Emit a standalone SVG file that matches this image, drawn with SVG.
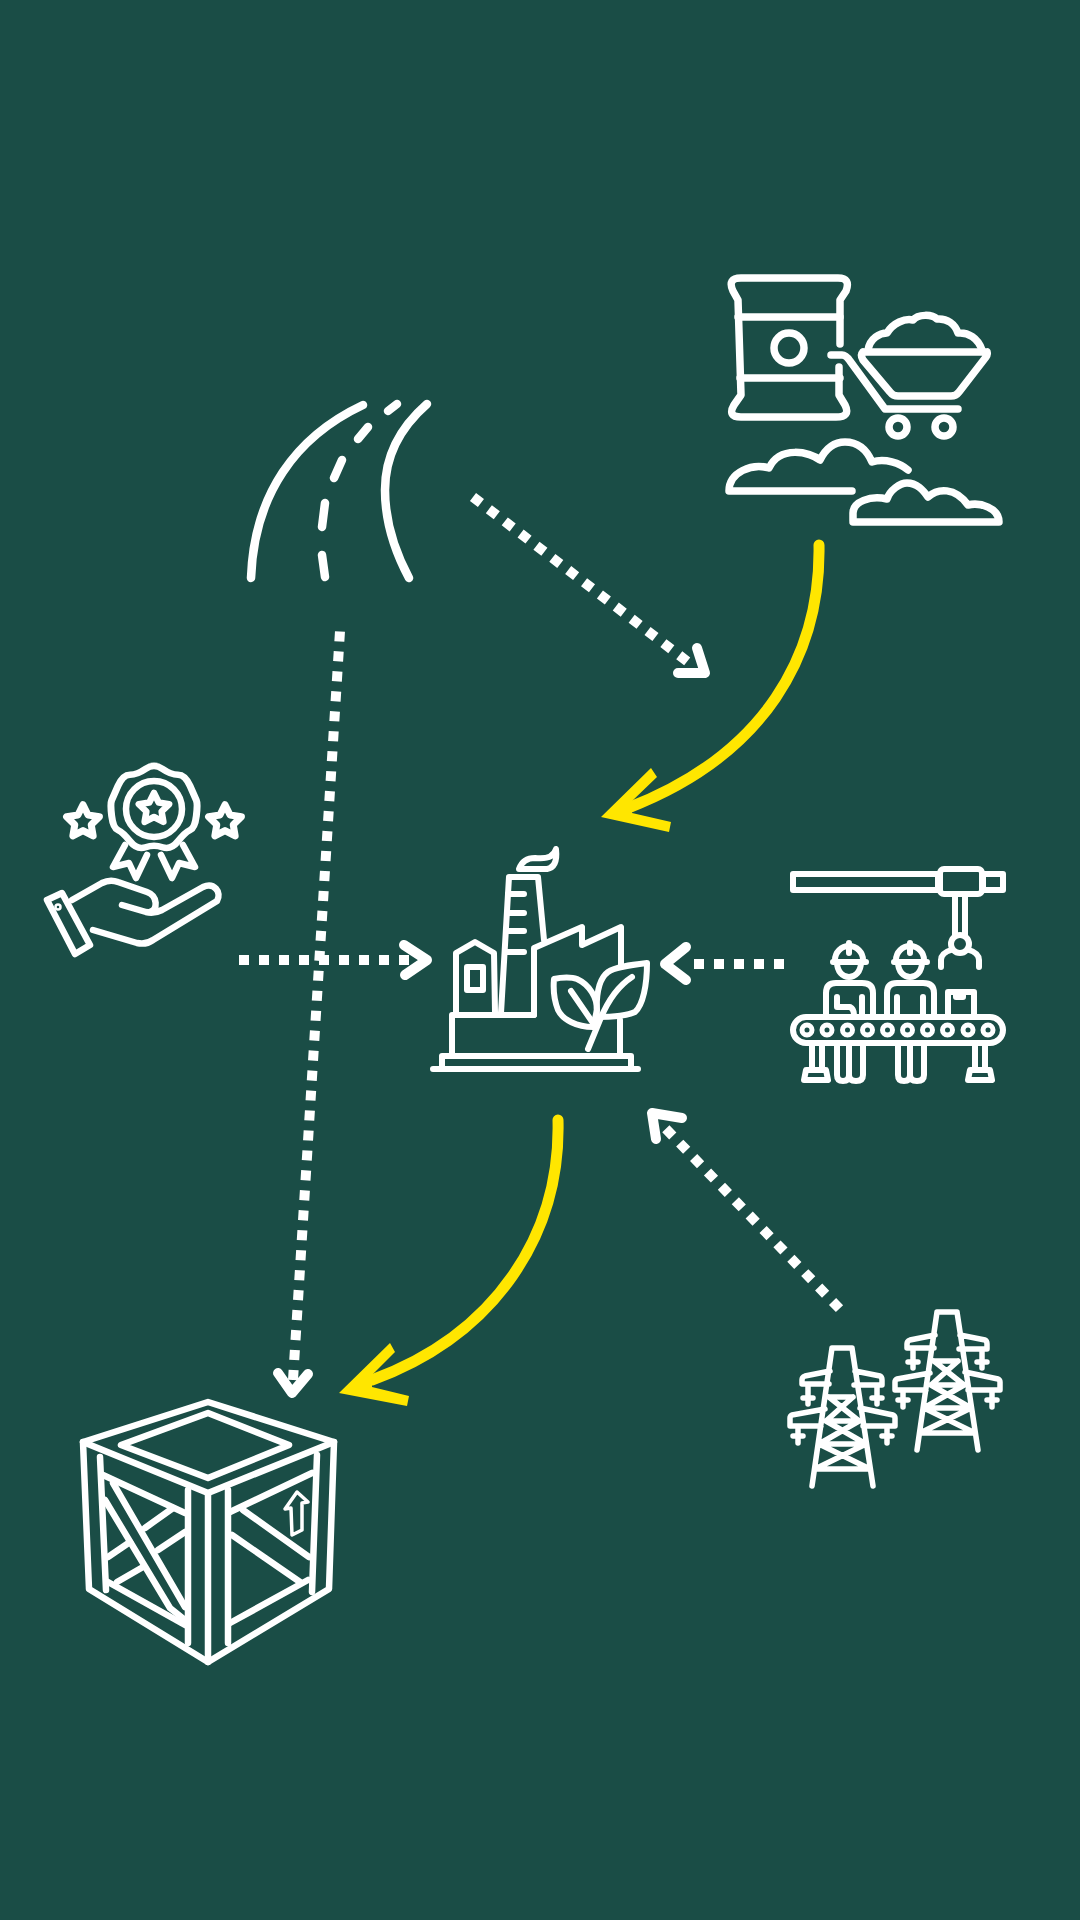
<svg xmlns="http://www.w3.org/2000/svg" width="1080" height="1920" viewBox="0 0 1080 1920">
<style>
.i{fill:none;stroke:#fff;stroke-linecap:round;stroke-linejoin:round}
.s7{stroke-width:7.5}.s6{stroke-width:6.5}.s5{stroke-width:6}
.dot{fill:none;stroke:#fff;stroke-width:10;stroke-dasharray:10 10}
.head{fill:none;stroke:#fff;stroke-width:10;stroke-linecap:round;stroke-linejoin:round}
.yc{fill:none;stroke:#ffe600;stroke-width:11;stroke-linecap:round}
.ya{fill:#ffe600;stroke:none}
</style>
<defs>
<path id="star" d="M0,-16L4.7,-6.5L15.2,-4.9L7.6,2.500L9.4,12.9L0,8L-9.4,12.9L-7.6,2.500L-15.2,-4.9L-4.7,-6.5Z"/>
<g id="pylon"><path d="M937,1312H957M937,1312L917,1450M957,1312L978,1450M935,1335L910,1340Q907,1341 907,1344V1348H934M960,1335L985,1340Q987,1341 987,1344V1349H959M930,1373L897,1379Q895,1380 895,1382V1390H926M965,1372L998,1379Q1000,1380 1000,1382V1390H968M934,1361H958M931,1385H964M924,1408H971M920,1433H975M934,1361L964,1385M958,1361L931,1385M931,1385L971,1408M964,1385L924,1408M924,1408L975,1433M971,1408L920,1433M913,1348V1368M908,1362H918M982,1349V1368M977,1362H987M903,1390V1407M898,1400H908M992,1390V1407M987,1400H997"/></g>
<g id="worker"><path d="M849,943V953M833,962H866M835,960A14,14 0 0 1 863,960M837,962C837,982 861,982 861,962M826,1015V993Q826,983 836,983H862Q873,983 873,993V1015M837,1045V1075Q837,1081 843,1081Q849,1081 849,1075V1045M849,1075Q849,1081 856,1081Q863,1081 863,1075V1045"/></g>
</defs>
<rect width="1080" height="1920" fill="#1a4d46"/>
<g id="connectors">
<path class="dot" d="M473,497L688,662"/>
<path class="head" d="M697,648L705,673H678"/>
<path class="yc" d="M819,545C821,655 765,755 628,808"/>
<path class="ya" d="M601,817L651,768L657,777L631,802L632,813L671,822L669,832Z"/>
<path class="yc" d="M558,1120C561,1235 495,1335 372,1380"/>
<path class="ya" d="M339,1393L390,1343L395,1352L372,1375L372,1387L409,1396L407,1406Z"/>
<path class="dot" d="M293,1380L340,631"/>
<path class="head" d="M278,1373L292,1393L308,1374"/>
<path class="dot" d="M239,960H414"/>
<path class="head" d="M404,945L427,960L405,975"/>
<path class="dot" d="M784,964H692"/>
<path class="head" d="M686,947L665,964L686,980"/>
<path class="dot" d="M839.5,1308.6L665.5,1128.4"/>
<path class="head" d="M682,1118L652,1113L656,1139"/>
</g>
<g id="raw-materials" class="i s7">
<path d="M840,344V300L846,291Q851,278 838,278H741Q727,278 733,291L738,300L741,395L734,405Q727,417 741,417H836Q851,417 845,405L839,395V367"/>
<path d="M738,317H840M740,378H840"/>
<circle cx="789" cy="348" r="15"/>
<path d="M831,355H842Q846,355 850,361L885,409H958"/>
<path d="M863,352H987M863,352Q860,355 863,360L890,392Q893,396 898,396H951Q956,396 959,392L986,357Q988,354 987,352"/>
<circle cx="898" cy="427" r="9"/><circle cx="944" cy="427" r="9"/>
<path d="M868,350C870,338 880,333 887,333C893,323 905,318 913,320C918,314 932,314 937,319C947,318 955,324 958,333C968,332 978,338 982,350"/>
<path d="M908,470C900,463 885,458 872,462C866,448 856,442 845,442C832,442 825,450 820,460C810,452 780,445 769,468C752,463 729,472 729,491H852"/>
<path d="M853,521V513C853,502 870,495 887,499C890,490 900,483 907,483C917,483 923,490 928,497C938,488 955,487 968,505C980,502 999,508 999,522H853"/>
</g>
<g id="road" class="i" style="stroke-width:8.500">
<path d="M251,578C254,495 295,437 363,405"/>
<path d="M427,404C395,432 385,462 385,490C385,520 393,548 409,578"/>
<path d="M322,555L325,577M325,503L322,527M342,460L334,478M368,427L358,439M397,404L388,411"/>
</g>
<g id="quality" class="i s6">
<path transform="translate(154,808) scale(1.08,1)" d="M-7.8,-39.2Q0,-45 7.8,-39.2T22.2,-33.3T33.3,-22.2T39.2,-7.8T39.2,7.8T33.3,22.2T22.2,33.3T7.8,39.2T-7.8,39.2T-22.2,33.3T-33.3,22.2T-39.2,7.8T-39.2,-7.8T-33.3,-22.2T-22.2,-33.3T-7.8,-39.2Z"/>
<circle cx="154" cy="809" r="28"/>
<use href="#star" x="154" y="809"/>
<use href="#star" transform="translate(83,822) scale(1.08)"/>
<use href="#star" transform="translate(225,822) scale(1.08)"/>
<path d="M125,845L113,867L129,863L136,878L147,855M183,845L195,867L179,863L172,878L161,855"/>
<path d="M47,900L62,893L90,945L75,954Z"/>
<circle cx="58" cy="907" r="2.5" style="stroke-width:2.5"/>
<path d="M72,900L102,883Q110,879 118,882L147,892C158,896 158,910 150,912M122,905L146,912Q154,914 162,910L203,887C214,882 222,892 217,901L153,940Q146,945 137,943L93,930"/>
</g>
<g id="factory" class="i s5">
<path d="M519,869Q523,858 535,858Q553,860 556,849Q558,867 547,869Z"/>
<path d="M501,1013L509,877H538L544,940"/>
<path d="M508,894H524M507,913H524M506,931H524M505,952H524"/>
<path d="M534,1015V948L582,927V945L621,927V967"/>
<path d="M534,1015H452V1053M620,1020V1053"/>
<path d="M442,1069V1056H631V1069M433,1069H638"/>
<path d="M456,1012V953L475,942L494,953L495,1012"/>
<rect x="467" y="967" width="16" height="23"/>
<path d="M554,979C562,977 572,977 577,979C590,985 597,998 597,1010L593,1027C577,1027 563,1020 558,1010C554,1000 553,990 554,979Z"/>
<path d="M571,991L593,1023"/>
<path d="M647,963C630,965 615,967 608,972C597,980 596,1000 597,1017C610,1017 627,1016 635,1012C643,1005 647,985 647,963Z"/>
<path d="M632,977Q612,990 600,1020L588,1049"/>
</g>
<g id="assembly" class="i s5">
<rect x="793" y="874" width="145" height="16"/>
<rect x="983" y="874" width="20" height="16"/>
<rect x="940" y="869" width="42" height="25" rx="4"/>
<path d="M955,895V936M965,895V936"/>
<circle cx="960" cy="944" r="9"/>
<path d="M941,967V960Q941,953 951,950M979,967V960Q979,953 969,950"/>
<use href="#worker"/><use href="#worker" x="61"/>
<path d="M837,997V1007H850Q854,1009 854,1015M862,997V1015M897,997V1015M923,997V1015"/>
<path d="M948,1015V992H974V1015M956,992V997H963V992"/>
<rect x="793" y="1017" width="210" height="26" rx="13"/>
<g style="stroke-width:5">
<circle cx="807" cy="1030" r="5"/><circle cx="827" cy="1030" r="5"/><circle cx="847.500" cy="1030" r="5"/><circle cx="867.500" cy="1030" r="5"/><circle cx="887.500" cy="1030" r="5"/><circle cx="907.500" cy="1030" r="5"/><circle cx="927.500" cy="1030" r="5"/><circle cx="947.500" cy="1030" r="5"/><circle cx="968" cy="1030" r="5"/><circle cx="988" cy="1030" r="5"/>
</g>
<path d="M812,1043V1069M822,1043V1069M975,1043V1069M985,1043V1069"/>
<path d="M804,1080L806,1070H826L828,1080ZM968,1080L970,1070H990L992,1080Z"/>
</g>
<g id="pylons" class="i s5" style="stroke-width:5.500">
<use href="#pylon"/><use href="#pylon" x="-105" y="36"/>
</g>
<g id="crate" class="i s6">
<path d="M83,1442L208,1402L334,1442L208,1493Z"/>
<path d="M121,1445L208,1413L289,1445L208,1478Z"/>
<path d="M83,1442L89,1589L208,1662L329,1589L334,1442"/>
<path d="M208,1493V1662M188,1490V1643M228,1490V1643M100,1457L106,1590M317,1455L312,1592"/>
<path d="M103,1475L185,1513M230,1512L312,1473M108,1582L185,1625M230,1623L308,1580"/>
<path d="M105,1500L170,1608L185,1620M113,1483L185,1607"/>
<path d="M145,1528L173,1508M158,1550L185,1532M108,1557L130,1542M117,1582L143,1567"/>
<path d="M243,1510L309,1557M232,1535L300,1582"/>
<path style="stroke-width:3.5" d="M297,1492L308,1502L302,1503V1530L292,1535L291,1508L285,1509Z"/>
</g>
</svg>
